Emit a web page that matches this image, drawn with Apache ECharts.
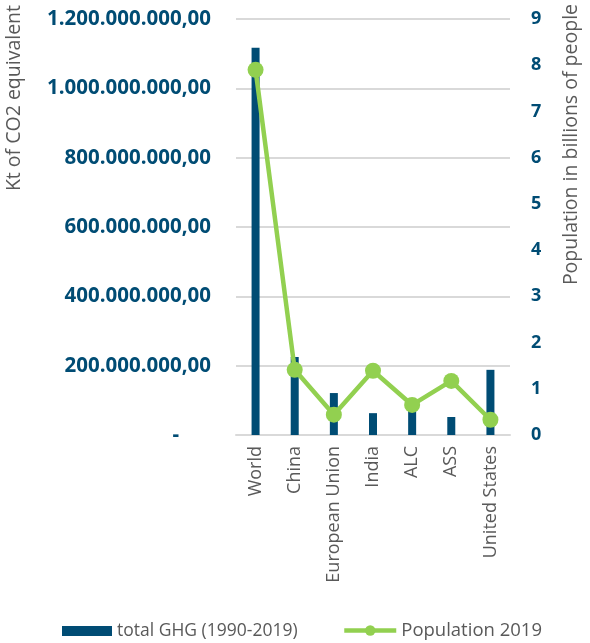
<!DOCTYPE html>
<html>
<head>
<meta charset="utf-8">
<script src="https://cdn.jsdelivr.net/npm/echarts@6/dist/echarts.min.js"></script>
<style>
html,body{margin:0;padding:0;background:#fff;}
#chart{width:590px;height:643px;}
</style>
</head>
<body>
<div id="chart"></div>
<script>
const categories = ['World', 'China', 'European Union', 'India', 'ALC', 'ASS', 'United States'];
const ghgTotal = [1117000000, 225000000, 121000000, 63000000, 92000000, 52000000, 188000000];
const population2019 = [7.9, 1.41, 0.44, 1.39, 0.65, 1.17, 0.33];
const leftTickLabels = ['-', '200.000.000,00', '400.000.000,00', '600.000.000,00', '800.000.000,00', '1.000.000.000,00', '1.200.000.000,00'];
const rightTickLabels = ['0', '1', '2', '3', '4', '5', '6', '7', '8', '9'];

const blue = '#004c74';
const green = '#92d050';
const gray = '#595959';
const font = 'Open Sans';

const chart = echarts.init(document.getElementById('chart'));
chart.setOption({
  animation: false,
  textStyle: { fontFamily: font },
  grid: { left: 236, right: 80, top: 19, bottom: 208, containLabel: false },
  legend: [
    {
      top: 617, left: 57,
      itemWidth: 50, itemHeight: 10,
      textStyle: { fontSize: 17.5, color: gray, fontFamily: font },
      data: [{ name: 'total GHG (1990-2019)', icon: 'rect' }]
    },
    {
      top: 616, left: 337,
      itemWidth: 52, itemHeight: 13,
      lineStyle: { width: 4.5 },
      textStyle: { fontSize: 18.5, color: gray, fontFamily: font },
      data: [{ name: 'Population 2019' }]
    }
  ],
  graphic: [
    { type: 'text', left: 4, top: 5, rotation: Math.PI / 2,
      style: { text: 'Kt of CO2 equivalent', fontSize: 19.5, fill: gray, fontFamily: font } },
    { type: 'text', left: 561, top: 4, rotation: Math.PI / 2,
      style: { text: 'Population in billions of people', fontSize: 19.5, fill: gray, fontFamily: font } }
  ],
  xAxis: {
    type: 'category',
    data: categories,
    axisLine: { show: true, lineStyle: { color: '#d9d9d9', width: 2 } },
    axisTick: { show: false },
    axisLabel: { rotate: 90, fontSize: 18, color: gray, margin: 11, fontFamily: font }
  },
  yAxis: [
    {
      type: 'value', min: 0, max: 1200000000, interval: 200000000,
      axisLine: { show: false }, axisTick: { show: false },
      splitLine: { lineStyle: { color: '#d9d9d9', width: 2 } },
      axisLabel: {
        margin: 25, fontSize: 20.5, fontWeight: 'bold', color: blue, fontFamily: font,
        formatter: function (v) {
          const s = leftTickLabels[Math.round(v / 200000000)];
          return s === '-' ? '-      ' : s;
        }
      }
    },
    {
      type: 'value', min: 0, max: 9, interval: 1,
      axisLine: { show: false }, axisTick: { show: false },
      splitLine: { show: false },
      axisLabel: {
        margin: 21, fontSize: 18, fontWeight: 'bold', color: blue, fontFamily: font,
        formatter: function (v) { return rightTickLabels[Math.round(v)]; }
      }
    }
  ],
  series: [
    {
      name: 'total GHG (1990-2019)', type: 'bar', yAxisIndex: 0,
      data: ghgTotal, barWidth: 8,
      itemStyle: { color: blue }
    },
    {
      name: 'Population 2019', type: 'line', yAxisIndex: 1,
      data: population2019,
      symbol: 'circle', symbolSize: 16,
      lineStyle: { color: green, width: 4.5 },
      itemStyle: { color: green }
    }
  ]
});
</script>
</body>
</html>
